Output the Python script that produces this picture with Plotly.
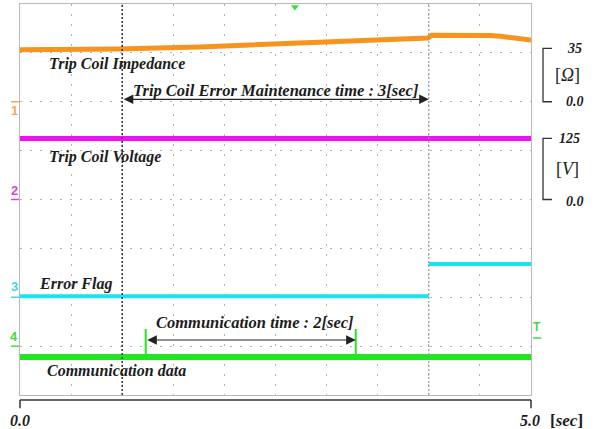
import plotly.graph_objects as go

# ---- time base / screen ----
T_END = 5.0          # 10 divisions x 0.5 s
N_DIV_Y = 8

# ---- channel 1 : trip coil impedance [ohm] ----
imp_t = [0.0, 0.95, 1.76, 2.25, 2.64, 3.03, 3.42, 3.91, 3.99, 4.03, 4.31, 4.60, 4.70, 4.84, 5.0]
imp_ohm = [34.1, 34.6, 35.9, 37.2, 38.3, 39.8, 40.9, 41.6, 41.7, 43.5, 43.7, 43.4, 42.9, 41.4, 40.4]

# ---- channel 2 : trip coil voltage [V] ----
volt_t = [0.0, 5.0]
volt_v = [125.0, 125.0]

# ---- channel 3 : error flag [V] ----
flag_edges = [0.0, 4.0, 5.0]
flag_v = [0.1, 3.4]

# ---- channel 4 : communication data [V] ----
comm_t = [0.0, 5.0]
comm_v = [-0.22, -0.22]
pulse_t = [1.23, 3.285]
pulse_v = 0.35

# ---- cursors [s] ----
cursor_t = [1.0, 4.0]
trig_t = 2.69

# channel ground offsets (div) and vertical scales (unit/div)
CH = {
    1: dict(off=6.0, scale=32.0, color="#F7941D", mark="#F5A84A"),
    2: dict(off=4.0, scale=100.0, color="#F010F0", mark="#E040E0"),
    3: dict(off=2.0, scale=5.0, color="#19E3F0", mark="#40D8F0"),
    4: dict(off=1.0, scale=1.0, color="#22E622", mark="#44D944"),
}


def to_div(ch, vals):
    c = CH[ch]
    return [c["off"] + v / c["scale"] for v in vals]


fig = go.Figure()

# traces
fig.add_trace(go.Scatter(x=imp_t, y=to_div(1, imp_ohm), mode="lines",
                         line=dict(color=CH[1]["color"], width=5), hoverinfo="skip"))
fig.add_trace(go.Scatter(x=volt_t, y=to_div(2, volt_v), mode="lines",
                         line=dict(color=CH[2]["color"], width=5), hoverinfo="skip"))
for i, lvl in enumerate(flag_v):
    fig.add_trace(go.Scatter(x=[flag_edges[i], flag_edges[i + 1]], y=to_div(3, [lvl, lvl]),
                             mode="lines", line=dict(color=CH[3]["color"], width=4),
                             hoverinfo="skip"))
fig.add_trace(go.Scatter(x=comm_t, y=to_div(4, comm_v), mode="lines",
                         line=dict(color=CH[4]["color"], width=6), hoverinfo="skip"))
for pt in pulse_t:
    fig.add_trace(go.Scatter(x=[pt, pt], y=to_div(4, [comm_v[0], pulse_v]), mode="lines",
                             line=dict(color=CH[4]["color"], width=2), hoverinfo="skip"))
# trigger position marker
fig.add_trace(go.Scatter(x=[trig_t], y=[N_DIV_Y - 0.06], mode="markers", cliponaxis=False,
                         marker=dict(symbol="triangle-down", size=7, color="#3CE03C"),
                         hoverinfo="skip"))

shapes = []
# cursors
shapes.append(dict(type="line", xref="x", yref="y", x0=cursor_t[0], x1=cursor_t[0], y0=0, y1=N_DIV_Y,
                   line=dict(color="#333333", width=1.5, dash="2px,2px"), layer="above"))
shapes.append(dict(type="line", xref="x", yref="y", x0=cursor_t[1], x1=cursor_t[1], y0=0, y1=N_DIV_Y,
                   line=dict(color="#9a9a9a", width=1.2, dash="2px,2px"), layer="above"))

# time axis bracket under the screen
ax_y, tick_y = -0.013, -0.034
shapes.append(dict(type="line", xref="paper", yref="paper", x0=0, x1=1, y0=ax_y, y1=ax_y,
                   line=dict(color="#333333", width=1.5)))
for xp in (0, 1):
    shapes.append(dict(type="line", xref="paper", yref="paper", x0=xp, x1=xp, y0=ax_y, y1=tick_y,
                       line=dict(color="#333333", width=1.5)))

# channel scale brackets at right
bx0, bx1 = 1.0235, 1.041
for ch, top in ((1, 35.0), (2, 125.0)):
    y0, y1 = CH[ch]["off"], CH[ch]["off"] + top / CH[ch]["scale"]
    shapes.append(dict(type="path", xref="paper", yref="y",
                       path=f"M{bx1},{y1} L{bx0},{y1} L{bx0},{y0} L{bx1},{y0}",
                       line=dict(color="#333333", width=1.3)))

# channel ground markers at left
for ch in CH:
    yy = CH[ch]["off"]
    shapes.append(dict(type="line", xref="paper", yref="y", x0=-0.0176, x1=-0.002, y0=yy, y1=yy,
                       line=dict(color=CH[ch]["mark"], width=1.5)))
# trigger level marker underline
shapes.append(dict(type="line", xref="paper", yref="y", x0=1.004, x1=1.02, y0=1.166, y1=1.166,
                   line=dict(color="#44D944", width=1.5)))

SERIF = "Liberation Serif"
TXT = "#1c1c1c"


def label(x, y, text, size=16, xanchor="left", xref="x", yref="y", weight="bold",
          style="italic", color=TXT, family=SERIF):
    return dict(x=x, y=y, xref=xref, yref=yref, text=text, showarrow=False,
                xanchor=xanchor, yanchor="middle",
                font=dict(family=family, size=size, color=color, weight=weight, style=style))


ann = [
    label(0.264, 6.77, "Trip Coil Impedance"),
    label(2.5, 6.24, "Trip Coil Error Maintenance time : 3[sec]", size=16.5, xanchor="center"),
    label(0.264, 4.87, "Trip Coil Voltage"),
    label(0.166, 2.27, "Error Flag"),
    label(2.3, 1.49, "Communication time : 2[sec]", size=16.5, xanchor="center"),
    label(0.245, 0.51, "Communication data"),
    # scale labels
    label(1.086, CH[1]["off"] + 35.0 / CH[1]["scale"], "35", size=14, xanchor="center", xref="paper"),
    label(1.072, 6.55, "[<i>Ω</i>]", size=18, xanchor="center", xref="paper", weight="normal", style="normal"),
    label(1.086, CH[1]["off"], "0.0", size=14, xanchor="center", xref="paper"),
    label(1.076, CH[2]["off"] + 125.0 / CH[2]["scale"], "125", size=14, xanchor="center", xref="paper"),
    label(1.072, 4.62, "[<i>V</i>]", size=18, xanchor="center", xref="paper", weight="normal", style="normal"),
    label(1.086, CH[2]["off"] - 0.05, "0.0", size=14, xanchor="center", xref="paper"),
    # time axis labels
    label(0.0, -0.064, "0.0", size=16, xanchor="center", xref="paper", yref="paper"),
    label(0.998, -0.064, "5.0", size=16, xanchor="center", xref="paper", yref="paper"),
    label(1.033, -0.064, "[<i>sec</i>]", size=17, xanchor="left", xref="paper", yref="paper",
          style="normal"),
    # trigger level marker
    label(1.0117, 1.39, "T", size=12, xanchor="center", xref="paper", weight="bold",
          style="normal", color="#44D944", family="Liberation Sans"),
]

# channel numbers
for ch, ytxt in ((1, 5.83), (2, 4.19), (3, 2.22), (4, 1.19)):
    ann.append(label(-0.0117, ytxt, str(ch), size=13, xanchor="center", xref="paper",
                     weight="bold", style="normal", color=CH[ch]["mark"], family="Liberation Sans"))

# double-headed interval arrows
for (t0, t1, yy) in ((cursor_t[0], cursor_t[1], 6.05), (pulse_t[0], pulse_t[1], 1.125)):
    ann.append(dict(x=t1, y=yy, ax=t0, ay=yy, xref="x", yref="y", axref="x", ayref="y",
                    text="", showarrow=True, arrowhead=2, startarrowhead=2,
                    arrowside="end+start", arrowsize=1.6, startarrowsize=1.6,
                    arrowwidth=1.2, arrowcolor="#222222", standoff=0, startstandoff=0))

grid = dict(showgrid=True, gridcolor="#b4b4b4", gridwidth=1, griddash="2px,8px",
            showline=True, mirror=True, linecolor="#b8b8b8", linewidth=1,
            zeroline=False, showticklabels=False, ticks="", fixedrange=True)

fig.update_layout(
    width=597, height=429,
    margin=dict(l=20, r=66, t=4, b=34),
    paper_bgcolor="white", plot_bgcolor="white",
    showlegend=False,
    xaxis=dict(range=[0, T_END], dtick=0.5, tick0=0, **grid),
    yaxis=dict(range=[0, N_DIV_Y], dtick=1, tick0=0, **grid),
    shapes=shapes,
    annotations=ann,
)

fig.write_html("out.html")
